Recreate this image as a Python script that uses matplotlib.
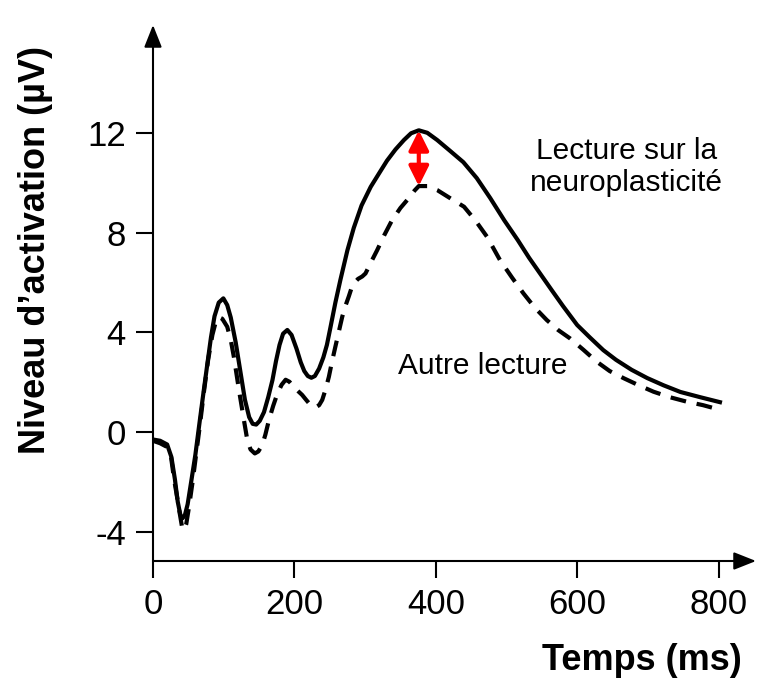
import matplotlib

matplotlib.use("Agg")
import matplotlib.pyplot as plt
import numpy as np

# values (time in ms, activation in µV)
SOLID_T = [0, 10, 20, 26, 31, 35, 38.5, 41.5, 45, 49, 54, 60, 65, 71, 77, 82, 87, 93,
           99.5, 105, 110, 117, 124, 130, 136, 141, 146, 151, 157, 163, 169, 174, 179,
           184, 190, 196, 203, 209, 214, 219, 224, 229, 235, 241, 246, 251, 258, 265,
           275, 284, 295, 308, 320, 331, 343, 355, 365, 376, 388, 402, 420, 439, 458,
           477, 497, 516, 532, 548, 564, 580, 600, 618, 637, 655, 677, 699, 722, 746,
           774, 802]
SOLID_V = [-0.3, -0.35, -0.5, -1.0, -1.9, -2.8, -3.3, -3.47, -3.35, -2.9, -2.0, -0.9,
           0.2, 1.5, 2.76, 3.8, 4.65, 5.2, 5.37, 5.1, 4.6, 3.6, 2.36, 1.3, 0.6, 0.33,
           0.3, 0.45, 0.8, 1.4, 2.09, 2.85, 3.5, 3.95, 4.1, 3.9, 3.35, 2.8, 2.45, 2.25,
           2.18, 2.25, 2.55, 3.0, 3.5, 4.2, 5.2, 6.1, 7.3, 8.2, 9.1, 9.85, 10.4, 10.9,
           11.35, 11.73, 12.0, 12.12, 12.02, 11.73, 11.3, 10.84, 10.2, 9.4, 8.5, 7.71,
           7.0, 6.35, 5.7, 5.06, 4.3, 3.8, 3.29, 2.9, 2.5, 2.17, 1.88, 1.61, 1.4, 1.2]

DASH_T = [0, 10, 20, 25, 30, 34, 38, 41, 44, 47, 51, 56, 61, 66, 72, 78, 84, 89, 93,
          98, 105, 110, 114.5, 121.6, 128.6, 133.4, 138, 144, 149, 154.6, 159, 164,
          170, 176, 182, 187.6, 193, 199, 205, 211, 217, 223, 230, 235, 239.4, 244,
          248.8, 253, 258, 263, 267.7, 272, 277, 281, 284, 290, 296, 300.6, 308, 317,
          327, 338, 350, 362, 370, 376, 388, 402, 420, 440, 456, 472.6, 491, 508, 524,
          540, 557, 573, 590, 609, 628, 646, 666, 687, 708, 731, 755, 778, 800]
DASH_V = [-0.35, -0.45, -0.6, -0.9, -1.93, -2.6, -3.3, -3.8, -3.94, -3.7, -3.0, -2.0,
          -0.9, 0.2, 1.6, 2.9, 3.9, 4.45, 4.62, 4.55, 4.23, 3.7, 3.0, 1.69, 0.48, -0.32,
          -0.7, -0.86, -0.78, -0.52, -0.1, 0.48, 1.05, 1.55, 1.9, 2.1, 2.02, 1.82, 1.65,
          1.49, 1.28, 1.08, 0.99, 1.08, 1.29, 1.7, 2.22, 2.8, 3.43, 4.05, 4.63, 5.05,
          5.45, 5.8, 5.97, 6.15, 6.25, 6.37, 6.8, 7.3, 7.9, 8.5, 9.0, 9.4, 9.7, 9.88,
          9.88, 9.72, 9.4, 9.05, 8.5, 7.84, 6.9, 6.2, 5.57, 5.0, 4.5, 4.1, 3.76, 3.3,
          2.82, 2.45, 2.16, 1.88, 1.62, 1.4, 1.22, 1.08, 0.91]

X_TICKS = [0, 200, 400, 600, 800]
Y_TICKS = [-4, 0, 4, 8, 12]
LABEL_MAIN = "Lecture sur la\nneuroplasticité"
LABEL_OTHER = "Autre lecture"

plt.rcParams["font.family"] = ["Liberation Sans", "DejaVu Sans"]
plt.rcParams["axes.unicode_minus"] = False

fig = plt.figure(figsize=(7.67, 6.87), dpi=100)
ax = fig.add_axes([153 / 767, 1 - 561 / 687, (756 - 153) / 767, (561 - 25) / 687])

ax.plot(SOLID_T, SOLID_V, color="black", lw=3, solid_joinstyle="round")
ax.plot(DASH_T, DASH_V, color="black", lw=3, dashes=(3.8, 2.6))

ax.set_xlim(0, 853)
ax.set_ylim(-5.18, 16.35)
for s in ax.spines.values():
    s.set_visible(False)

ax.set_xticks(X_TICKS)
ax.set_yticks(Y_TICKS)
ax.tick_params(direction="out", length=12.5, width=1.5, labelsize=25, pad=7)

# axis lines with arrowheads
arrow = dict(arrowstyle="-|>,head_length=0.68,head_width=0.27", mutation_scale=20,
             color="black", lw=1.5, shrinkA=0, shrinkB=0)
ax.annotate("", xy=(1, 0), xytext=(0, 0), xycoords="axes fraction", arrowprops=arrow)
ax.annotate("", xy=(0, 1), xytext=(0, 0), xycoords="axes fraction", arrowprops=arrow)

# red double arrow between the two peaks
i_top = int(np.argmax(SOLID_V))
peak_t = SOLID_T[i_top]
ax.annotate("", xy=(peak_t, max(SOLID_V)), xytext=(peak_t, max(DASH_V)),
            arrowprops=dict(arrowstyle="<|-|>,head_length=0.4,head_width=0.2",
                            mutation_scale=30, color="red", lw=3,
                            shrinkA=0, shrinkB=0))

ax.text(669.5, 10.64, LABEL_MAIN, fontsize=21.5, ha="center", va="center",
        multialignment="center")
ax.text(466.7, 2.65, LABEL_OTHER, fontsize=21.5, ha="center", va="center")

fig.text(36 / 767, 1 - 250 / 687, "Niveau d\u2019activation (µV)", rotation=90,
         fontsize=26, fontweight="bold", ha="center", va="center")
fig.text(642 / 767, 1 - 661 / 687, "Temps (ms)", fontsize=26, fontweight="bold",
         ha="center", va="center")

fig.savefig("out.png", dpi=100)
